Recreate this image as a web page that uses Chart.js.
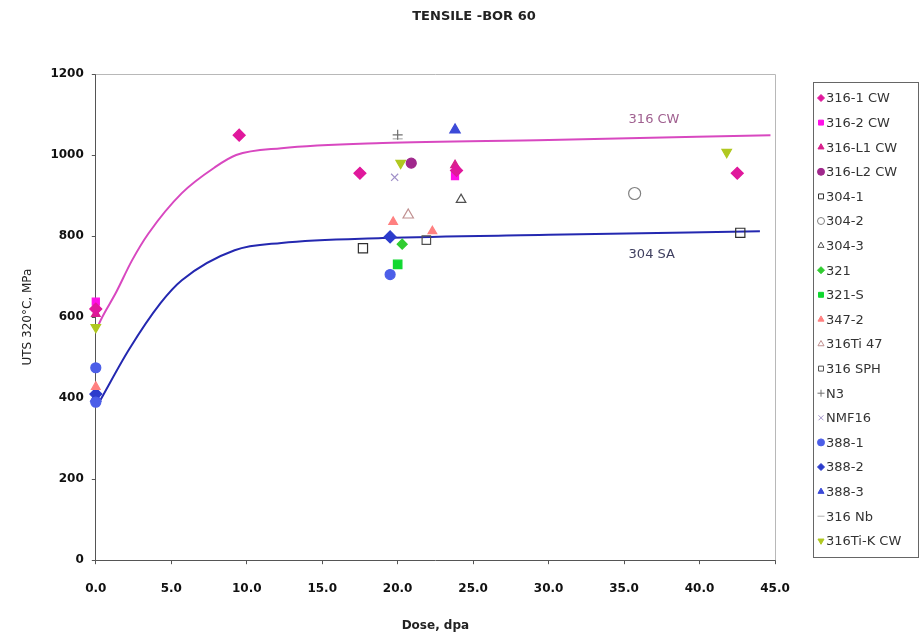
<!DOCTYPE html>
<html>
<head>
<meta charset="utf-8">
<script src="https://cdn.jsdelivr.net/npm/chart.js@4.4.0/dist/chart.umd.min.js"></script>
<style>
  html, body { margin: 0; padding: 0; background: #fff; }
  #wrap { width: 922px; height: 639px; }
</style>
</head>
<body>
<div id="wrap"><canvas id="chart" width="922" height="639"></canvas></div>
<script>
// dose (dpa) / UTS (MPa) points per material
const s316_1CW_x = [0, 9.5, 17.5, 23.9, 42.5];
const s316_1CW_y = [620, 1049, 955, 962, 955];
const s316_2CW_x = [0, 23.8];
const s316_2CW_y = [638, 948];
const s316_L1CW_x = [0, 23.8];
const s316_L1CW_y = [608, 975];
const s316_L2CW_x = [20.9];
const s316_L2CW_y = [980];
const s304_1_x = [17.7, 42.7];
const s304_1_y = [770, 808];
const s304_2_x = [35.7];
const s304_2_y = [905];
const s304_3_x = [24.2];
const s304_3_y = [890];
const s321_x = [20.3];
const s321_y = [780];
const s321S_x = [20.0];
const s321S_y = [730];
const s347_2_x = [0, 19.7, 22.3];
const s347_2_y = [428, 835, 812];
const s316Ti47_x = [20.7];
const s316Ti47_y = [852];
const s316SPH_x = [21.9];
const s316SPH_y = [790];
const sN3_x = [20.0];
const sN3_y = [1050];
const sNMF16_x = [19.8];
const sNMF16_y = [945];
const s388_1_x = [0, 0, 19.5];
const s388_1_y = [475, 390, 705];
const s388_2_x = [0, 19.5];
const s388_2_y = [410, 798];
const s388_3_x = [0, 23.8];
const s388_3_y = [400, 1062];
const s316Nb_x = [20.0];
const s316Nb_y = [1040];
const s316TiK_x = [0, 20.2, 41.8];
const s316TiK_y = [575, 980, 1007];

// trend curves
const cw316_x = [0, 0.33, 1.33, 2.4, 3.5, 5.7, 7.9, 9.3, 12.3, 19, 30, 44.7];
const cw316_y = [565, 593, 660, 740, 807, 906, 970, 1000, 1017, 1030, 1037, 1049];
const sa304_x = [0.3, 2.2, 4.3, 5.7, 9.2, 12.3, 19, 30, 44];
const sa304_y = [395, 520, 635, 691, 765, 783, 795, 803, 812];

const xTicks = [0, 5, 10, 15, 20, 25, 30, 35, 40, 45];
const yTicks = [0, 200, 400, 600, 800, 1000, 1200];

function pts(xs, ys) {
    return xs.map((x, i) => ({ x: x, y: ys[i] }));
}

function series(label, xs, ys, style, color, fill, extra) {
    return Object.assign({
        label: label,
        data: pts(xs, ys),
        showLine: false,
        clip: false,
        pointStyle: style,
        pointRadius: 5,
        pointRotation: 0,
        pointBorderColor: color,
        pointBackgroundColor: fill ? color : 'rgba(255,255,255,0)',
        pointBorderWidth: 1.2,
        borderColor: color,
        backgroundColor: fill ? color : 'rgba(255,255,255,0)'
    }, extra || {});
}

const datasets = [
    series('316-1 CW', s316_1CW_x, s316_1CW_y, 'rectRot', '#e0189c', true, { pointRadius: 6 }),
    series('316-2 CW', s316_2CW_x, s316_2CW_y, 'rect', '#ff10e8', true),
    series('316-L1 CW', s316_L1CW_x, s316_L1CW_y, 'triangle', '#d8208c', true),
    series('316-L2 CW', s316_L2CW_x, s316_L2CW_y, 'circle', '#a0288c', true),
    series('304-1', s304_1_x, s304_1_y, 'rect', '#303030', false, { pointRadius: 6.5 }),
    series('304-2', s304_2_x, s304_2_y, 'circle', '#808080', false, { pointRadius: 6 }),
    series('304-3', s304_3_x, s304_3_y, 'triangle', '#505050', false, { pointRadius: 5.5 }),
    series('321', s321_x, s321_y, 'rectRot', '#30cc30', true),
    series('321-S', s321S_x, s321S_y, 'rect', '#10d830', true, { pointRadius: 6 }),
    series('347-2', s347_2_x, s347_2_y, 'triangle', '#ff8080', true),
    series('316Ti 47', s316Ti47_x, s316Ti47_y, 'triangle', '#c09090', false, { pointRadius: 6 }),
    series('316 SPH', s316SPH_x, s316SPH_y, 'rect', '#505050', false, { pointRadius: 6 }),
    series('N3', sN3_x, sN3_y, 'cross', '#707070', false),
    series('NMF16', sNMF16_x, sNMF16_y, 'crossRot', '#a090c8', false),
    series('388-1', s388_1_x, s388_1_y, 'circle', '#4c5ee8', true),
    series('388-2', s388_2_x, s388_2_y, 'rectRot', '#2c3ccc', true, { pointRadius: 6 }),
    series('388-3', s388_3_x, s388_3_y, 'triangle', '#3c4ad8', true, { pointRadius: 6 }),
    series('316 Nb', s316Nb_x, s316Nb_y, 'line', '#b0b0b0', false),
    series('316Ti-K CW', s316TiK_x, s316TiK_y, 'triangle', '#b0c820', true, { pointRadius: 5.5, pointRotation: 180 }),
    {
        label: 'curve316',
        data: pts(cw316_x, cw316_y),
        showLine: true,
        borderColor: '#d848c0',
        borderWidth: 2,
        pointRadius: 0,
        cubicInterpolationMode: 'monotone',
        fill: false
    },
    {
        label: 'curve304',
        data: pts(sa304_x, sa304_y),
        showLine: true,
        borderColor: '#2428b0',
        borderWidth: 2,
        pointRadius: 0,
        cubicInterpolationMode: 'monotone',
        fill: false
    }
];

const tickFont = { family: 'DejaVu Sans', size: 12, weight: 'bold' };

// title, gray box around plot, legend drawn by hand, curve names
const extras = {
    id: 'extras',
    afterDraw(chart) {
        const ctx = chart.ctx;
        const a = chart.chartArea;
        ctx.save();
        ctx.fillStyle = '#222';
        ctx.font = 'bold 13px "DejaVu Sans"';
        ctx.textAlign = 'center';
        ctx.textBaseline = 'middle';
        ctx.fillText('TENSILE -BOR 60', 474, 17);
        ctx.textAlign = 'left';

        ctx.strokeStyle = '#b8b8b8';
        ctx.lineWidth = 1;
        ctx.beginPath();
        ctx.moveTo(a.left, a.top + 0.5);
        ctx.lineTo(a.right + 0.5, a.top + 0.5);
        ctx.lineTo(a.right + 0.5, a.bottom);
        ctx.stroke();

        // legend
        ctx.strokeStyle = '#666';
        ctx.strokeRect(813.5, 82.5, 105, 475);
        ctx.font = '13px "DejaVu Sans"';
        const items = chart.data.datasets.filter(d => !d.label.startsWith('curve'));
        items.forEach((d, i) => {
            const y = 98 + i * 24.6;
            ctx.fillStyle = d.pointBackgroundColor;
            ctx.strokeStyle = d.pointBorderColor;
            ctx.lineWidth = 1;
            if (Chart.helpers && Chart.helpers.drawPoint) {
                Chart.helpers.drawPoint(ctx, {
                    pointStyle: d.pointStyle,
                    radius: 3.5,
                    rotation: d.pointRotation || 0,
                    borderWidth: 1
                }, 821, y);
            }
            ctx.fillStyle = '#333';
            ctx.fillText(d.label, 826, y + 1);
        });

        const xs = chart.scales.x, ys = chart.scales.y;
        ctx.font = '13px "DejaVu Sans"';
        ctx.textBaseline = 'alphabetic';
        ctx.fillStyle = '#a06090';
        ctx.fillText('316 CW', xs.getPixelForValue(35.3), ys.getPixelForValue(1079));
        ctx.fillStyle = '#404060';
        ctx.fillText('304 SA', xs.getPixelForValue(35.3), ys.getPixelForValue(746));
        ctx.restore();
    }
};

new Chart(document.getElementById('chart'), {
    type: 'scatter',
    data: { datasets: datasets },
    plugins: [extras],
    options: {
        responsive: false,
        animation: false,
        layout: { padding: { left: 17, right: 147, top: 74, bottom: 2 } },
        plugins: {
            title: { display: false },
            legend: { display: false },
            tooltip: { enabled: false }
        },
        scales: {
            x: {
                type: 'linear',
                min: 0,
                max: 45,
                afterBuildTicks: s => { s.ticks = xTicks.map(v => ({ value: v })); },
                ticks: {
                    color: '#111',
                    font: tickFont,
                    padding: 17,
                    maxRotation: 0,
                    callback: v => v.toFixed(1)
                },
                grid: { display: true, drawOnChartArea: false, tickLength: 4, color: '#555' },
                border: { color: '#555', width: 1 },
                title: {
                    display: true,
                    text: 'Dose, dpa',
                    color: '#222',
                    font: { family: 'DejaVu Sans', size: 12, weight: 'bold' },
                    padding: { top: 6, bottom: 4 }
                }
            },
            y: {
                type: 'linear',
                min: 0,
                max: 1200,
                afterBuildTicks: s => { s.ticks = yTicks.map(v => ({ value: v })); },
                ticks: { color: '#111', font: tickFont, padding: 8, callback: v => String(v) },
                grid: { display: true, drawOnChartArea: false, tickLength: 4, color: '#555' },
                border: { color: '#555', width: 1 },
                title: {
                    display: true,
                    text: 'UTS 320°C, MPa',
                    color: '#222',
                    font: { family: 'DejaVu Sans', size: 12 },
                    padding: { top: 4, bottom: 7 }
                }
            }
        }
    }
});
</script>
</body>
</html>
